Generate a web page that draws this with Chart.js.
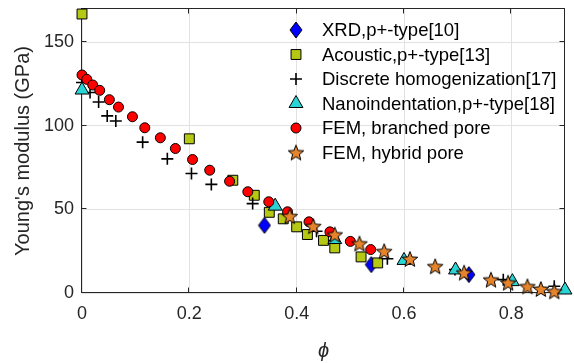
<!DOCTYPE html>
<html lang="en">
<head>
<meta charset="UTF-8" />
<title>Young's modulus vs porosity</title>
<script src="https://cdn.jsdelivr.net/npm/chart.js"></script>
<style>
  body { margin: 0; background: #fff; }
  #wrap { width: 574px; height: 363px; position: relative; }
</style>
</head>
<body>
<div id="wrap"><canvas id="modulusChart"></canvas></div>
<script>
  // porosity phi and Young's modulus (GPa)
  const xrdPhi = [0.34, 0.539, 0.721];
  const xrdE = [40.5, 17, 11];

  const acousticPhi = [0, 0.2, 0.281, 0.321, 0.349, 0.375, 0.4, 0.42, 0.45, 0.471, 0.52, 0.551];
  const acousticE = [167, 92.3, 67.5, 58.5, 48.3, 44.4, 39.6, 35, 31.5, 27, 21.6, 18];

  const discretePhi = [0, 0.015, 0.031, 0.047, 0.063, 0.113, 0.159, 0.204, 0.241, 0.318, 0.437, 0.569, 0.695, 0.785, 0.88];
  const discreteE = [126, 120, 114.3, 106, 103, 90.3, 80.3, 71.5, 65, 53.5, 37, 20.5, 14, 8, 4];

  const nanoPhi = [0, 0.36, 0.471, 0.6, 0.696, 0.802, 0.9];
  const nanoE = [121.5, 52, 32, 19.5, 13.8, 6.8, 1.8];

  const branchedPhi = [0, 0.009, 0.02, 0.033, 0.051, 0.068, 0.094, 0.117, 0.146, 0.174, 0.206, 0.238, 0.275, 0.309, 0.348, 0.383, 0.423, 0.462, 0.5, 0.538];
  const branchedE = [130.5, 127.9, 124.5, 121.3, 115.7, 111.3, 105.5, 98.9, 92.9, 86.5, 79.9, 73.5, 66.9, 60.6, 54.6, 48.6, 42.6, 36.6, 30.9, 26];

  const hybridPhi = [0.387, 0.431, 0.471, 0.517, 0.563, 0.611, 0.658, 0.712, 0.762, 0.794, 0.83, 0.855, 0.88];
  const hybridE = [46, 40, 35, 29.6, 25, 20.4, 16, 12.2, 8, 6.2, 4, 2.4, 1];

  const xTicks = [0, 0.2, 0.4, 0.6, 0.8];
  const yTicks = [0, 50, 100, 150];

  const labels = [
    'XRD,p+-type[10]',
    'Acoustic,p+-type[13]',
    'Discrete homogenization[17]',
    'Nanoindentation,p+-type[18]',
    'FEM, branched pore',
    'FEM, hybrid pore'
  ];

  const FONT = '"Liberation Sans", Arial, sans-serif';
  const AXIS_COLOR = '#262626';

  function toPoints(xs, ys) {
    return xs.map((x, i) => ({ x, y: ys[i] }));
  }

  // matlab-like star and diamond markers (chart.js has neither)
  function makeStar(outer, inner, fill) {
    const size = Math.ceil(outer * 2 + 3);
    const c = document.createElement('canvas');
    c.width = size; c.height = size;
    const g = c.getContext('2d');
    g.translate(size / 2, size / 2 + 0.8);
    g.beginPath();
    for (let i = 0; i < 10; i++) {
      const r = i % 2 ? inner : outer;
      const a = -Math.PI / 2 + i * Math.PI / 5;
      g.lineTo(r * Math.cos(a), r * Math.sin(a));
    }
    g.closePath();
    g.fillStyle = fill; g.fill();
    g.strokeStyle = '#000'; g.lineWidth = 1; g.stroke();
    return c;
  }

  function makeDiamond(w, h, fill) {
    const c = document.createElement('canvas');
    c.width = w + 2; c.height = h + 2;
    const g = c.getContext('2d');
    const cx = c.width / 2, cy = c.height / 2;
    g.beginPath();
    g.moveTo(cx, cy - h / 2);
    g.lineTo(cx + w / 2, cy);
    g.lineTo(cx, cy + h / 2);
    g.lineTo(cx - w / 2, cy);
    g.closePath();
    g.fillStyle = fill; g.fill();
    g.strokeStyle = '#000'; g.lineWidth = 1; g.stroke();
    return c;
  }

  const starImg = makeStar(8.2, 3.5, '#e6842c');
  const diamondImg = makeDiamond(12, 16, '#0000ff');

  const datasets = [
    { label: labels[0], data: toPoints(xrdPhi, xrdE), pointStyle: diamondImg, pointRadius: 8,
      backgroundColor: '#0000ff', borderColor: '#000', borderWidth: 1, order: 5 },
    { label: labels[1], data: toPoints(acousticPhi, acousticE), pointStyle: 'rect', pointRadius: 7,
      backgroundColor: '#b4c814', borderColor: '#000', borderWidth: 1, order: 4 },
    { label: labels[2], data: toPoints(discretePhi, discreteE), pointStyle: 'cross', pointRadius: 6,
      backgroundColor: '#000', borderColor: '#000', borderWidth: 1.6, order: 3 },
    { label: labels[3], data: toPoints(nanoPhi, nanoE), pointStyle: 'triangle', pointRadius: 8,
      backgroundColor: '#2ad4d4', borderColor: '#000', borderWidth: 1, order: 2 },
    { label: labels[4], data: toPoints(branchedPhi, branchedE), pointStyle: 'circle', pointRadius: 5,
      backgroundColor: '#ff0000', borderColor: '#000', borderWidth: 1, order: 1 },
    { label: labels[5], data: toPoints(hybridPhi, hybridE), pointStyle: starImg, pointRadius: 8,
      backgroundColor: '#e6842c', borderColor: '#000', borderWidth: 1, order: 0 }
  ];
  datasets.forEach(d => { d.clip = false; d.pointHoverRadius = d.pointRadius; });

  // box round the axes with inward ticks, under the data like matlab
  const axesBox = {
    id: 'axesBox',
    beforeDatasetsDraw(chart) {
      const { ctx, chartArea: a, scales } = chart;
      const L = Math.round(a.left) - 0.5, R = Math.round(a.right) - 0.5;
      const T = Math.round(a.top) - 0.5, B = Math.round(a.bottom) - 0.5;
      const len = 5;
      ctx.save();
      ctx.strokeStyle = AXIS_COLOR;
      ctx.lineWidth = 1;
      ctx.strokeRect(L, T, R - L, B - T);
      ctx.beginPath();
      xTicks.forEach(v => {
        const px = Math.round(scales.x.getPixelForValue(v)) - 0.5;
        ctx.moveTo(px, B); ctx.lineTo(px, B - len);
        ctx.moveTo(px, T); ctx.lineTo(px, T + len);
      });
      yTicks.forEach(v => {
        const py = Math.round(scales.y.getPixelForValue(v)) - 0.5;
        ctx.moveTo(L, py); ctx.lineTo(L + len, py);
        ctx.moveTo(R, py); ctx.lineTo(R - len, py);
      });
      ctx.stroke();
      ctx.restore();
    }
  };

  // legend sits inside the plot, no frame
  const insideLegend = {
    id: 'insideLegend',
    afterDraw(chart) {
      const ctx = chart.ctx;
      const drawPoint = Chart.helpers && Chart.helpers.drawPoint;
      ctx.save();
      chart.data.datasets.forEach((ds, i) => {
        const y = 30 + i * 24.5;
        if (drawPoint) {
          ctx.fillStyle = ds.backgroundColor;
          ctx.strokeStyle = ds.borderColor;
          ctx.lineWidth = ds.borderWidth;
          drawPoint(ctx, { pointStyle: ds.pointStyle, radius: ds.pointRadius, borderWidth: ds.borderWidth, rotation: 0 }, 296, y);
        }
        ctx.fillStyle = '#000';
        ctx.font = '18.5px ' + FONT;
        ctx.textBaseline = 'middle';
        ctx.textAlign = 'left';
        ctx.fillText(ds.label, 322, y + 1);
      });
      ctx.restore();
    }
  };

  new Chart(document.getElementById('modulusChart'), {
    type: 'scatter',
    data: { datasets },
    plugins: [axesBox, insideLegend],
    options: {
      responsive: true,
      maintainAspectRatio: false,
      animation: false,
      events: [],
      layout: { padding: { top: 9, right: 5, left: 0, bottom: 0 } },
      plugins: { legend: { display: false }, tooltip: { enabled: false } },
      scales: {
        x: {
          type: 'linear',
          min: 0,
          max: 0.9,
          afterBuildTicks: s => { s.ticks = xTicks.map(v => ({ value: v })); },
          afterFit: s => { s.height = 70; s.paddingLeft = 0; s.paddingRight = 0; },
          grid: { color: '#e2e2e2', drawTicks: false },
          border: { display: false },
          ticks: { padding: 10, color: AXIS_COLOR, font: { family: FONT, size: 18 } },
          title: { display: true, text: 'ϕ', color: AXIS_COLOR,
            font: { family: FONT, size: 20, style: 'italic' }, padding: { top: 3, bottom: 0 } }
        },
        y: {
          type: 'linear',
          min: 0,
          max: 170,
          afterBuildTicks: s => { s.ticks = yTicks.map(v => ({ value: v })); },
          afterFit: s => { s.width = 82; s.paddingTop = 0; s.paddingBottom = 0; },
          grid: { color: '#e2e2e2', drawTicks: false },
          border: { display: false },
          ticks: { padding: 8, color: AXIS_COLOR, font: { family: FONT, size: 18 } },
          title: { display: true, text: "Young's modulus (GPa)", color: AXIS_COLOR,
            font: { family: FONT, size: 20 }, padding: { top: 11, bottom: 0 } }
        }
      }
    }
  });
</script>
</body>
</html>
